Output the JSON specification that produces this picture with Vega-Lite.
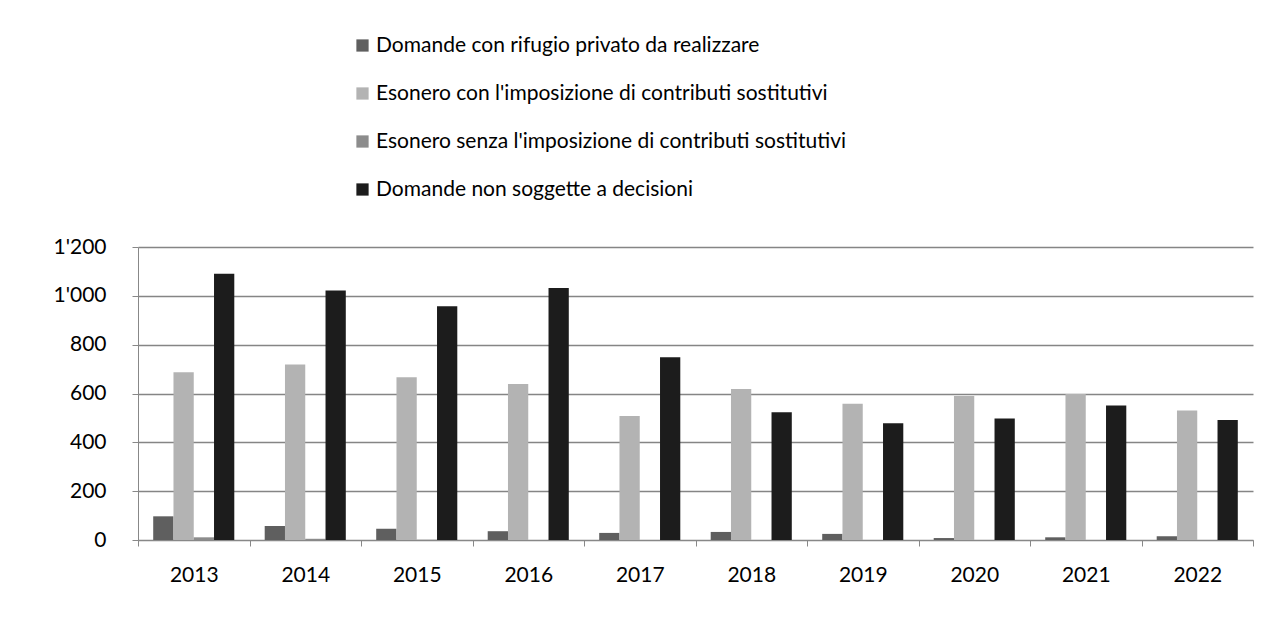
{
  "$schema": "https://vega.github.io/schema/vega-lite/v6.json",
  "width": 1115,
  "height": 293,
  "autosize": "none",
  "padding": {"left": 138, "top": 247, "right": 32, "bottom": 90},
  "background": "white",
  "config": {"font": "Lato", "view": {"stroke": null}},
  "data": {"values": [
    {"anno": "2013", "serie": "Domande con rifugio privato da realizzare", "valore": 97},
    {"anno": "2013", "serie": "Esonero con l'imposizione di contributi sostitutivi", "valore": 687},
    {"anno": "2013", "serie": "Esonero senza l'imposizione di contributi sostitutivi", "valore": 11},
    {"anno": "2013", "serie": "Domande non soggette a decisioni", "valore": 1090},
    {"anno": "2014", "serie": "Domande con rifugio privato da realizzare", "valore": 57},
    {"anno": "2014", "serie": "Esonero con l'imposizione di contributi sostitutivi", "valore": 719},
    {"anno": "2014", "serie": "Esonero senza l'imposizione di contributi sostitutivi", "valore": 5},
    {"anno": "2014", "serie": "Domande non soggette a decisioni", "valore": 1022},
    {"anno": "2015", "serie": "Domande con rifugio privato da realizzare", "valore": 46},
    {"anno": "2015", "serie": "Esonero con l'imposizione di contributi sostitutivi", "valore": 667},
    {"anno": "2015", "serie": "Esonero senza l'imposizione di contributi sostitutivi", "valore": 1},
    {"anno": "2015", "serie": "Domande non soggette a decisioni", "valore": 957},
    {"anno": "2016", "serie": "Domande con rifugio privato da realizzare", "valore": 36},
    {"anno": "2016", "serie": "Esonero con l'imposizione di contributi sostitutivi", "valore": 639},
    {"anno": "2016", "serie": "Esonero senza l'imposizione di contributi sostitutivi", "valore": 0},
    {"anno": "2016", "serie": "Domande non soggette a decisioni", "valore": 1032},
    {"anno": "2017", "serie": "Domande con rifugio privato da realizzare", "valore": 29},
    {"anno": "2017", "serie": "Esonero con l'imposizione di contributi sostitutivi", "valore": 508},
    {"anno": "2017", "serie": "Esonero senza l'imposizione di contributi sostitutivi", "valore": 0},
    {"anno": "2017", "serie": "Domande non soggette a decisioni", "valore": 748},
    {"anno": "2018", "serie": "Domande con rifugio privato da realizzare", "valore": 33},
    {"anno": "2018", "serie": "Esonero con l'imposizione di contributi sostitutivi", "valore": 618},
    {"anno": "2018", "serie": "Esonero senza l'imposizione di contributi sostitutivi", "valore": 0},
    {"anno": "2018", "serie": "Domande non soggette a decisioni", "valore": 523},
    {"anno": "2019", "serie": "Domande con rifugio privato da realizzare", "valore": 25},
    {"anno": "2019", "serie": "Esonero con l'imposizione di contributi sostitutivi", "valore": 558},
    {"anno": "2019", "serie": "Esonero senza l'imposizione di contributi sostitutivi", "valore": 0},
    {"anno": "2019", "serie": "Domande non soggette a decisioni", "valore": 478},
    {"anno": "2020", "serie": "Domande con rifugio privato da realizzare", "valore": 8},
    {"anno": "2020", "serie": "Esonero con l'imposizione di contributi sostitutivi", "valore": 590},
    {"anno": "2020", "serie": "Esonero senza l'imposizione di contributi sostitutivi", "valore": 0},
    {"anno": "2020", "serie": "Domande non soggette a decisioni", "valore": 498},
    {"anno": "2021", "serie": "Domande con rifugio privato da realizzare", "valore": 11},
    {"anno": "2021", "serie": "Esonero con l'imposizione di contributi sostitutivi", "valore": 598},
    {"anno": "2021", "serie": "Esonero senza l'imposizione di contributi sostitutivi", "valore": 0},
    {"anno": "2021", "serie": "Domande non soggette a decisioni", "valore": 551},
    {"anno": "2022", "serie": "Domande con rifugio privato da realizzare", "valore": 15},
    {"anno": "2022", "serie": "Esonero con l'imposizione di contributi sostitutivi", "valore": 530},
    {"anno": "2022", "serie": "Esonero senza l'imposizione di contributi sostitutivi", "valore": 0},
    {"anno": "2022", "serie": "Domande non soggette a decisioni", "valore": 491}
  ]},
  "mark": {"type": "bar"},
  "encoding": {
    "x": {
      "field": "anno", "type": "nominal",
      "scale": {"paddingInner": 0, "paddingOuter": 0},
      "axis": {"title": null, "labelAngle": 0, "tickBand": "extent", "domainColor": "#888888", "tickColor": "#888888", "tickSize": 6, "labelFontSize": 21, "labelPadding": 18, "labelColor": "#000000"}
    },
    "xOffset": {
      "field": "serie", "type": "nominal",
      "sort": ["Domande con rifugio privato da realizzare", "Esonero con l'imposizione di contributi sostitutivi", "Esonero senza l'imposizione di contributi sostitutivi", "Domande non soggette a decisioni"],
      "scale": {"paddingInner": 0, "paddingOuter": 0.75}
    },
    "y": {
      "field": "valore", "type": "quantitative",
      "scale": {"domain": [0, 1200], "nice": false},
      "axis": {"title": null, "values": [0, 200, 400, 600, 800, 1000, 1200], "grid": true, "gridColor": "#858585", "gridWidth": 1.3, "domainColor": "#888888", "tickColor": "#888888", "tickSize": 6, "labelFontSize": 21, "labelPadding": 26, "labelColor": "#000000", "labelExpr": "replace(format(datum.value, ','), ',', \"'\")"}
    },
    "color": {
      "field": "serie", "type": "nominal",
      "scale": {"domain": ["Domande con rifugio privato da realizzare", "Esonero con l'imposizione di contributi sostitutivi", "Esonero senza l'imposizione di contributi sostitutivi", "Domande non soggette a decisioni"], "range": ["#5f5f5f", "#b3b3b3", "#8c8c8c", "#1c1c1c"]},
      "legend": {"title": null, "orient": "none", "legendX": 214, "legendY": -212, "direction": "vertical", "symbolType": "square", "symbolSize": 150, "symbolStrokeWidth": 0, "symbolOpacity": 1, "labelFontSize": 21, "labelLimit": 0, "labelColor": "#000000", "rowPadding": 26, "labelOffset": 3, "padding": 0}
    }
  }
}
